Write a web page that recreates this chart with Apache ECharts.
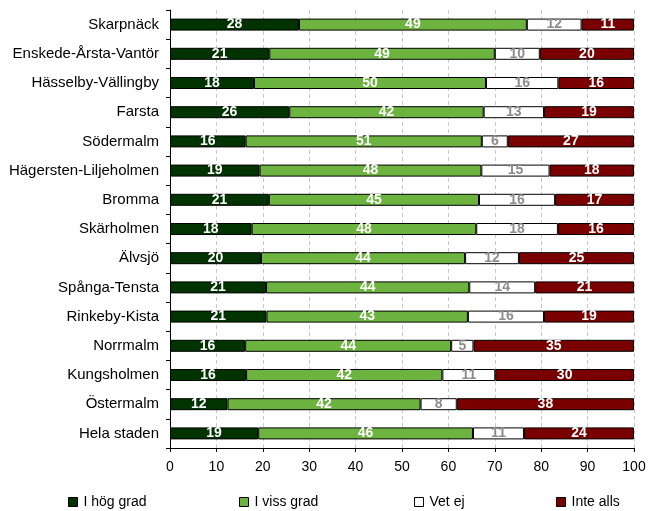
<!DOCTYPE html>
<html><head><meta charset="utf-8">
<script src="https://cdn.jsdelivr.net/npm/echarts@6/dist/echarts.min.js"></script>
<style>html,body{margin:0;padding:0;background:#fff}#c{width:661px;height:511px}</style>
</head><body><div id="c"></div>
<script>
var categories = ["Skarpnäck","Enskede-Årsta-Vantör","Hässelby-Vällingby","Farsta","Södermalm","Hägersten-Liljeholmen","Bromma","Skärholmen","Älvsjö","Spånga-Tensta","Rinkeby-Kista","Norrmalm","Kungsholmen","Östermalm","Hela staden"];
var hogGrad  = [27.8,21.4,18.1,25.7,16.3,19.3,21.3,17.6,19.6,20.7,20.8,16.2,16.4,12.4,19.0];
var vissGrad = [49.1,48.6,50.0,41.9,50.9,47.8,45.3,48.4,44.0,43.8,43.4,44.4,42.3,41.6,46.3];
var vetEj    = [11.8,9.7,15.6,13.0,5.6,14.7,16.4,17.6,11.6,14.2,16.4,4.8,11.4,7.8,11.0];
var inteAlls = [11.3,20.3,16.3,19.4,27.2,18.2,17.0,16.4,24.8,21.3,19.4,34.6,29.9,38.2,23.7];
var seriesNames = ["I hög grad","I viss grad","Vet ej","Inte alls"];
var xTicks = [0,10,20,30,40,50,60,70,80,90,100];

var colors = ["#003300","#6db33f","#ffffff","#7a0000"];
var labelColors = ["#ffffff","#ffffff","#8c8c8c","#ffffff"];
var font = "Liberation Sans, Arial, sans-serif";
var values = [hogGrad, vissGrad, vetEj, inteAlls];

var series = seriesNames.map(function(n,i){
  return {
    name:n, type:'bar', stack:'all', barWidth:12, data:values[i],
    itemStyle:{color:colors[i], borderColor:'#000', borderWidth:1},
    label:{show:true, position:'inside', color:labelColors[i], fontWeight:'bold', fontSize:14, fontFamily:font,
      formatter:function(p){return Math.round(p.value);}},
    emphasis:{disabled:true}
  };
});
var legendLefts = [68, 239, 414, 556];
var legends = seriesNames.map(function(n,i){
  return {data:[n], left:legendLefts[i], top:495, padding:0, itemWidth:9, itemHeight:9, itemGap:4,
    icon:'rect', textStyle:{fontSize:14, fontFamily:font, color:'#000', padding:[0,0,0,1]},
    itemStyle:{borderColor:'#000', borderWidth:1}, selectedMode:false};
});
var chart = echarts.init(document.getElementById('c'));
chart.setOption({
  animation:false,
  grid:{left:170, right:27, top:10, bottom:63, containLabel:false},
  legend: legends,
  xAxis:{type:'value', min:0, max:100, interval:10,
    axisLine:{show:true, lineStyle:{color:'#000'}},
    axisTick:{show:true, length:4, lineStyle:{color:'#000'}},
    axisLabel:{fontSize:14, fontFamily:font, color:'#000', margin:12,
      formatter:function(v){return xTicks.indexOf(v)>=0?String(v):'';}},
    splitLine:{show:true, lineStyle:{color:'#c8c8c8', type:[4,3]}}
  },
  yAxis:{type:'category', inverse:true, data:categories,
    axisLine:{show:true, lineStyle:{color:'#000'}},
    axisTick:{show:true, length:4, lineStyle:{color:'#000'}},
    axisLabel:{fontSize:15, fontFamily:font, color:'#000', margin:11}
  },
  series: series
});
</script></body></html>
